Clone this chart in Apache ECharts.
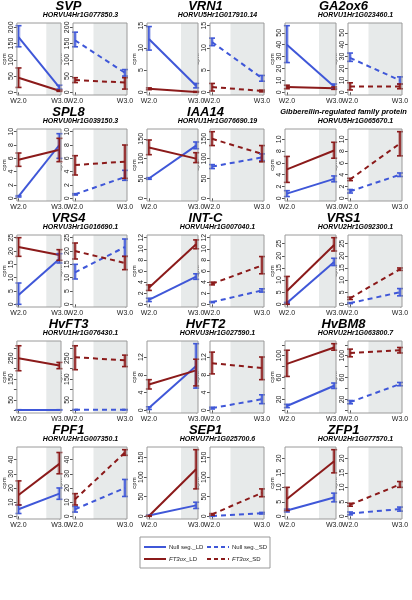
<!DOCTYPE html>
<html><head><meta charset="utf-8">
<script src="https://cdn.jsdelivr.net/npm/echarts@6/dist/echarts.min.js"></script>
<style>html,body{margin:0;padding:0;background:#fff}#c{width:412px;height:600px}</style>
</head><body><div id="c"></div><script>
// ---------------- data ----------------
const genes = ['SVP','VRN1','GA2ox6','SPL8','IAA14','Gibberellin-regulated family protein','VRS4','INT-C','VRS1','HvFT3','HvFT2','HvBM8','FPF1','SEP1','ZFP1'];
const geneIds = ['HORVU4Hr1G077850.3','HORVU5Hr1G017910.14','HORVU1Hr1G023460.1','HORVU0Hr1G039150.3','HORVU1Hr1G076690.19','HORVU5Hr1G065670.1','HORVU3Hr1G016690.1','HORVU4Hr1G007040.1','HORVU2Hr1G092300.1','HORVU1Hr1G076430.1','HORVU3Hr1G027590.1','HORVU2Hr1G063800.7','HORVU2Hr1G007350.1','HORVU7Hr1G025700.6','HORVU2Hr1G077570.1'];
const xCategories = ['W2.0','W3.0'];
const xPositions = [2, 3];

const yTop = [205, 15, 56, 10, 168, 11.3, 25, 12, 27.5, 320, 15, 122, 47, 170, 23];
const yTicks = [
  [0,50,100,150,200],[0,5,10,15],[0,10,20,30,40,50],
  [0,2,4,6,8,10],[0,50,100,150],[0,2,4,6,8,10],
  [0,5,10,15,20,25],[0,2,4,6,8,10,12],[0,5,10,15,20,25],
  [0,50,100,150,200,250,300],[0,4,8,12],[0,20,40,60,80,100,120],
  [0,10,20,30,40],[0,50,100,150],[0,5,10,15,20]
];
const yTickLabels = [
  [0,50,100,150,200],[0,5,10,15],[0,10,20,30,40,50],
  [0,2,4,6,8,10],[0,50,100,150],[0,2,4,6,8,10],
  [0,5,10,15,20,25],[0,2,4,6,8,10,12],[0,5,10,15,20,25],
  [50,150,250],[0,4,8,12],[20,60,100],
  [0,10,20,30,40],[0,50,100,150],[0,5,10,15,20]
];

// Long day, Null segregant
const ldNullMean = [[170,15],[12,1.5],[40,5],[0.3,8],[50,133],[0.8,3.3],[3.5,17],[0.8,5],[0.5,17.5],[2,2],[0.5,10],[8,45],[5,16],[2,28],[2,6.5]];
const ldNullLow  = [[140,10],[9.5,1],[25,3],[0.2,6],[48,125],[0.3,2.8],[0,15.5],[0.5,4.5],[0.2,16],[1,1],[0.2,5],[5,40],[2,12],[1,20],[1.5,5]];
const ldNullHigh = [[205,22],[14.8,2],[56,7],[0.4,9.7],[52,142],[1.3,3.8],[8,19],[1.1,5.5],[0.8,19],[3,3],[0.8,15],[11,50],[8,20],[3,36],[2.5,8]];
// Long day, FT3ox
const ldOxMean = [[45,5],[0.8,0.1],[4.5,3.5],[5.8,7.3],[128,100],[4.9,8.1],[21.5,18.5],[3,10.8],[5.5,24.5],[250,215],[5.8,9],[85,115],[15,37],[1,120],[6,19]];
const ldOxLow  = [[15,3],[0.6,0],[3,2.5],[4.8,5.5],[110,90],[2.7,6.8],[18,16.5],[2.5,10],[0,22],[190,200],[4.8,5.5],[62,110],[8,30],[0,70],[2,15]];
const ldOxHigh = [[75,7],[1,0.2],[6,4.5],[6.8,9],[147,115],[7.1,9.5],[25,20.5],[3.5,11.6],[11.5,27.5],[310,230],[6.9,11.5],[110,122],[25,45],[2,170],[10,23]];
// Short day, Null segregant
const sdNullMean = [[160,60],[11.3,3.2],[29,10],[0.6,3.2],[80,103],[1.2,4],[12,21.5],[0.4,2.5],[0.5,5],[3,3],[0.5,2.5],[15,48],[5,20],[1,8],[1,2.5]];
const sdNullLow  = [[140,50],[10.5,2.5],[26,7],[0.5,2.7],[75,95],[0.9,3.7],[9.5,18],[0.3,2.2],[0.3,3.5],[2,2],[0.3,1.5],[12,45],[3,14],[0,6],[0.5,1.8]];
const sdNullHigh = [[185,70],[12.2,3.8],[33,13],[0.7,4.2],[85,112],[1.5,4.3],[15,24.5],[0.5,2.8],[0.7,6.5],[4,4],[0.7,3.5],[18,51],[7,26],[2,10],[1.5,3.2]];
// Short day, FT3ox
const sdOxMean = [[38,30],[1.2,0.3],[5,5],[5,5.5],[150,112],[3.2,9.3],[20,15.5],[3.7,7],[2.5,14.5],[255,240],[10.6,9.5],[105,110],[12,45],[5,60],[4,11]];
const sdOxLow  = [[30,10],[0.3,0.1],[2,3],[3.5,3],[133,92],[3,7.2],[17,13],[3.5,5.5],[2,14],[195,210],[8.2,6.9],[98,105],[8,43],[3,50],[3.5,10]];
const sdOxHigh = [[45,45],[2,0.5],[8,7],[6.4,8],[168,133],[3.4,11.3],[23,18],[4,8.6],[3,15],[310,265],[13.1,12],[112,115],[16,47],[7,70],[4.5,12]];

const seriesNames = ['Null seg._LD','FT3ox_LD','Null seg._SD','FT3ox_SD'];
const shadeStart = [2.68, 2.37]; // LD, SD

// ---------------- style / layout ----------------
const BLUE = '#3f57d8', RED = '#8b1a1a';
const BLUE_A = 'rgba(63,87,216,0.3)', RED_A = 'rgba(139,26,26,0.3)';
const SHADE = '#e7eaea';
const FONT = '"Liberation Sans", Arial, sans-serif';
const colX = [10, 147, 285];
const subW = [51, 54];
const subOff = [0, 63];
const rowY = [23, 129, 235, 341, 447];
const plotH = 72;
const XMIN = 1.96, XMAX = 3.04;

const grids = [], xAxes = [], yAxes = [], series = [], graphics = [];

function errRender(fillColor) {
  return function (params, api) {
    const x = api.value(0), lo = api.value(1), hi = api.value(2);
    const a = api.coord([x, lo]), b = api.coord([x, hi]);
    const c = api.visual('color');
    const cap = 3;
    return {type:'group', children:[
      {type:'rect', shape:{x:a[0]-2, y:b[1], width:4, height:a[1]-b[1]}, style:{fill:fillColor}},
      {type:'line', shape:{x1:a[0], y1:a[1], x2:b[0], y2:b[1]}, style:{stroke:c, lineWidth:1.6}},
      {type:'line', shape:{x1:a[0]-cap, y1:a[1], x2:a[0]+cap, y2:a[1]}, style:{stroke:c, lineWidth:1.6}},
      {type:'line', shape:{x1:b[0]-cap, y1:b[1], x2:b[0]+cap, y2:b[1]}, style:{stroke:c, lineWidth:1.6}}
    ]};
  };
}

genes.forEach((g, gi) => {
  const r = Math.floor(gi / 3), c = gi % 3;
  const span = yTop[gi];
  const yMin = -0.04 * span, yMax = 1.04 * span;
  const centerX = colX[c] + (subOff[1] + subW[1]) / 2;
  graphics.push({type:'text', silent:true, style:{text:g, x:centerX, y:rowY[r]-17, align:'center', verticalAlign:'middle',
    font: (g.length > 10 ? 'italic bold 7.5px ' : 'italic bold 13px ') + FONT, fill:'#000'}});
  graphics.push({type:'text', silent:true, style:{text:geneIds[gi], x:centerX+12, y:rowY[r]-8, align:'center', verticalAlign:'middle',
    font:'italic bold 7px ' + FONT, fill:'#000'}});

  for (let s = 0; s < 2; s++) {
    const idx = gi * 2 + s;
    grids.push({left: colX[c] + subOff[s], top: rowY[r], width: subW[s], height: plotH,
      show: true, borderColor: '#9a9a9a', borderWidth: 1, backgroundColor: 'transparent', z: 10});
    xAxes.push({type:'value', gridIndex: idx, min: XMIN, max: XMAX,
      axisLine:{show:false}, splitLine:{show:false},
      axisTick:{show:true, length:3, customValues: xPositions, lineStyle:{color:'#555'}},
      axisLabel:{show:true, customValues: xPositions, fontSize:7, margin:3, color:'#222', fontFamily: FONT,
        formatter: v => xCategories[xPositions.indexOf(Math.round(v))]}});
    yAxes.push({type:'value', gridIndex: idx, min: yMin, max: yMax,
      axisLine:{show:false}, splitLine:{show:false},
      axisTick:{show:true, length:3, customValues: yTicks[gi], lineStyle:{color:'#555'}},
      axisLabel:{show:true, customValues: yTickLabels[gi], rotate:90, fontSize:7, margin:2, color:'#222', fontFamily: FONT},
      name:'cpm', nameLocation:'middle', nameRotate:90, nameGap:6,
      nameTextStyle:{fontSize:6, color:'#222', fontFamily: FONT}});

    const nullMean = s === 0 ? ldNullMean : sdNullMean;
    const nullLow = s === 0 ? ldNullLow : sdNullLow;
    const nullHigh = s === 0 ? ldNullHigh : sdNullHigh;
    const oxMean = s === 0 ? ldOxMean : sdOxMean;
    const oxLow = s === 0 ? ldOxLow : sdOxLow;
    const oxHigh = s === 0 ? ldOxHigh : sdOxHigh;
    const ls = s === 0 ? {width:2, type:'solid'} : {width:2, type:[5,4]};

    series.push({type:'line', name: seriesNames[s*2], xAxisIndex: idx, yAxisIndex: idx,
      data: xPositions.map((x, k) => [x, nullMean[gi][k]]), symbol:'none', silent:true,
      color: BLUE, lineStyle: Object.assign({color: BLUE}, ls), z: 3,
      markArea:{silent:true, itemStyle:{color: SHADE}, data:[[{xAxis: shadeStart[s]}, {xAxis: XMAX}]]}});
    series.push({type:'line', name: seriesNames[s*2+1], xAxisIndex: idx, yAxisIndex: idx,
      data: xPositions.map((x, k) => [x, oxMean[gi][k]]), symbol:'none', silent:true,
      color: RED, lineStyle: Object.assign({color: RED}, ls), z: 3});
    series.push({type:'custom', name:'err', xAxisIndex: idx, yAxisIndex: idx, silent:true, color: BLUE, z: 4,
      renderItem: errRender(BLUE_A), encode:{x:0, y:[1,2]},
      data: xPositions.map((x, k) => [x, nullLow[gi][k], nullHigh[gi][k]])});
    series.push({type:'custom', name:'err', xAxisIndex: idx, yAxisIndex: idx, silent:true, color: RED, z: 4,
      renderItem: errRender(RED_A), encode:{x:0, y:[1,2]},
      data: xPositions.map((x, k) => [x, oxLow[gi][k], oxHigh[gi][k]])});
  }
});

// legend (drawn as graphics)
graphics.push({type:'rect', silent:true, shape:{x:140, y:537, width:130, height:31}, style:{fill:'none', stroke:'#999', lineWidth:1}});
const legendItems = [
  {name: seriesNames[0], color: BLUE, dash: null, x: 144, y: 547},
  {name: seriesNames[1], color: RED, dash: null, x: 144, y: 559},
  {name: seriesNames[2], color: BLUE, dash: [4,3], x: 207, y: 547},
  {name: seriesNames[3], color: RED, dash: [4,3], x: 207, y: 559}
];
legendItems.forEach(it => {
  graphics.push({type:'line', silent:true, shape:{x1:it.x, y1:it.y, x2:it.x+22, y2:it.y},
    style:{stroke: it.color, lineWidth:2, lineDash: it.dash || null}});
  const label = it.name.startsWith('FT3ox') ? '{i|FT3ox}{n|' + it.name.slice(5) + '}' : '{n|' + it.name + '}';
  graphics.push({type:'text', silent:true, style:{text: label, x: it.x+25, y: it.y, verticalAlign:'middle',
    rich:{i:{fontStyle:'italic', fontSize:6, fontFamily: FONT, fill:'#222'}, n:{fontSize:6, fontFamily: FONT, fill:'#222'}}}});
});

const chart = echarts.init(document.getElementById('c'), null, {renderer:'canvas'});
chart.setOption({
  animation:false,
  backgroundColor:'#fff',
  grid: grids, xAxis: xAxes, yAxis: yAxes, series: series,
  graphic: graphics
});
</script></body></html>
